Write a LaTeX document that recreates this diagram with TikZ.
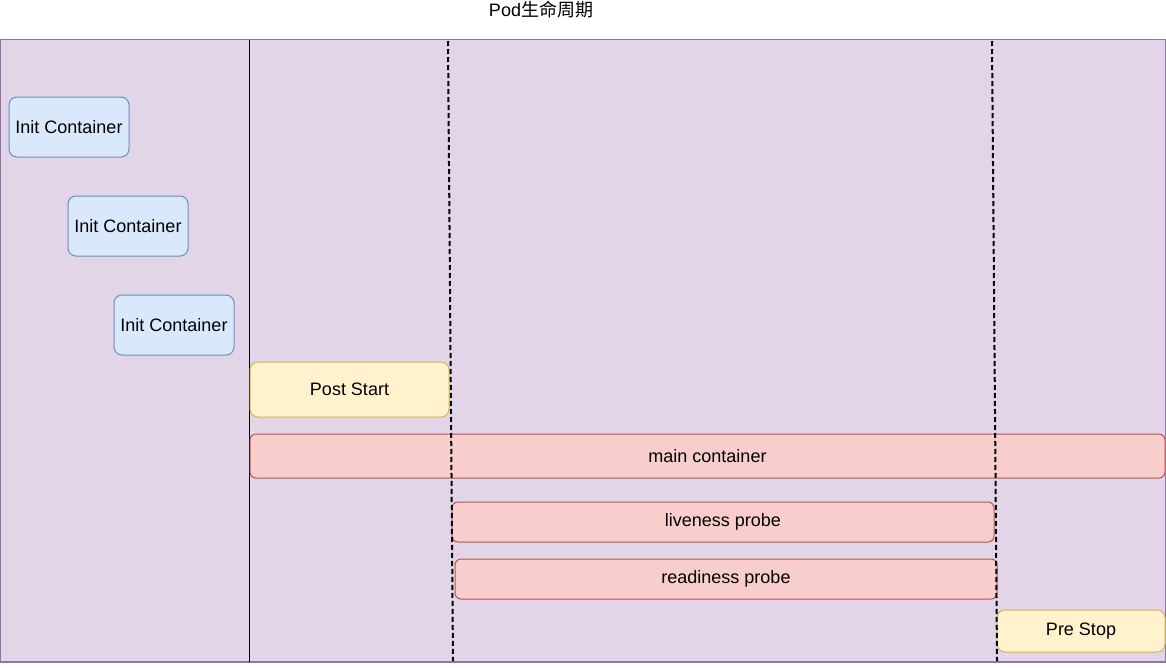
\documentclass[tikz,border=0pt]{standalone}
\usepackage{fontspec}
\setmainfont{Liberation Sans}
\newfontfamily\cjk{Noto Sans CJK SC}
\usetikzlibrary{positioning}
\definecolor{podfill}{HTML}{E1D5E7}
\definecolor{poddraw}{HTML}{9673A6}
\definecolor{initfill}{HTML}{DAE8FC}
\definecolor{initdraw}{HTML}{6C8EBF}
\definecolor{hookfill}{HTML}{FFF2CC}
\definecolor{hookdraw}{HTML}{D6B656}
\definecolor{ctrfill}{HTML}{F8CECC}
\definecolor{ctrdraw}{HTML}{B85450}
\tikzset{
  initbox/.style={draw=initdraw, fill=initfill, rounded corners=8pt, line width=1pt,
    minimum width=120pt, minimum height=60pt, inner sep=0pt},
  hookbox/.style={draw=hookdraw, fill=hookfill, rounded corners=8pt, line width=1pt, inner sep=0pt},
  ctrbox/.style={draw=ctrdraw, fill=ctrfill, rounded corners=6pt, line width=1pt, inner sep=0pt},
  phase/.style={black, line width=2pt, dash pattern=on 5pt off 3pt}
}

\begin{document}
\begin{tikzpicture}[x=1pt, y=-1pt, font=\fontsize{18}{21}\selectfont]
\useasboundingbox (0,0) rectangle (1166,667);

% pod frame
\draw[fill=podfill, draw=poddraw, line width=1.2pt] (0.6,39.5) rectangle (1165.4,662);
\node (title) at (541,10) {Pod\cjk 生命周期};

% init / main split
\coordinate (splittop) at (249,39.5);
\coordinate (splitbot) at (249,662);
\draw[line width=0.9pt] (splittop) -- (splitbot);

% init containers
\node[initbox] (init1) at (69,127) {Init Container};
\node[initbox] (init2) at (128,226) {Init Container};
\node[initbox] (init3) at (174,325) {Init Container};

% hooks and containers
\node[hookbox, minimum width=199pt, minimum height=55pt] (poststart) at (349.5,389.5) {Post Start};
\node[ctrbox, minimum width=915pt, minimum height=44pt] (main) at (707.5,456) {main container};
\node[ctrbox, minimum width=542pt, minimum height=40pt] (liveness) at (723,522) {liveness probe};
\node[ctrbox, minimum width=542pt, minimum height=40pt] (readiness) at (726,579) {readiness probe};
\node[hookbox, minimum width=168pt, minimum height=42pt] (prestop) at (1081,631) {Pre Stop};

% phase markers
\coordinate (starttop) at (448,41);
\coordinate (startbot) at (453,661);
\coordinate (stoptop) at (992,41);
\coordinate (stopbot) at (997,661);
\draw[phase] (starttop) -- (startbot);
\draw[phase] (stoptop) -- (stopbot);

\end{tikzpicture}
\end{document}
